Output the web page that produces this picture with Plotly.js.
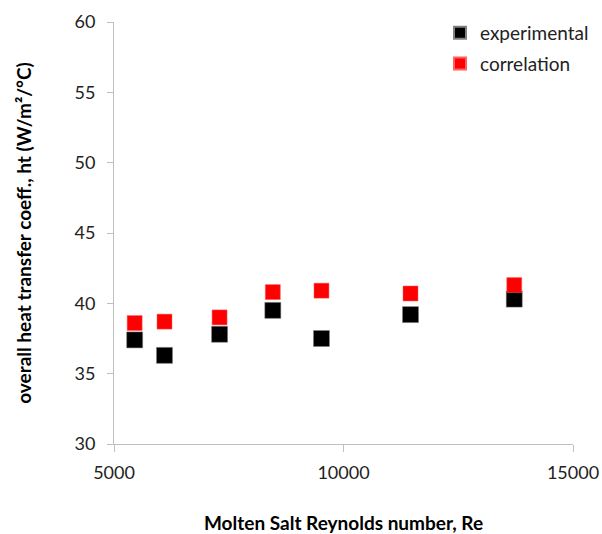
<!DOCTYPE html>
<html>
<head>
<meta charset="utf-8">
<script src="https://cdn.plot.ly/plotly-3.0.1.min.js"></script>
<style>html,body{margin:0;padding:0;background:#fff;}#chart{width:602px;height:534px;}</style>
</head>
<body>
<div id="chart"></div>
<script>
var reynolds = [5450, 6100, 7300, 8460, 9520, 11460, 13720];
var experimental = [37.4, 36.3, 37.8, 39.5, 37.5, 39.2, 40.3];
var correlation = [38.6, 38.7, 39.0, 40.8, 40.9, 40.7, 41.3];
var seriesNames = ["experimental", "correlation"];
var xTicks = [5000, 10000, 15000];
var yTicks = [30, 35, 40, 45, 50, 55, 60];

var FONT = "Lato, 'Open Sans', sans-serif";

var traces = [
  {
    x: reynolds, y: experimental, name: seriesNames[0], type: "scatter", mode: "markers",
    legendgroup: "a",
    marker: {symbol: "square", size: 16, color: "#000000", line: {color: "#808080", width: 0.5}}
  },
  {
    x: reynolds, y: correlation, name: seriesNames[1], type: "scatter", mode: "markers",
    legendgroup: "b",
    marker: {symbol: "square", size: 15, color: "#ff0000", line: {color: "#ff6060", width: 0.5}}
  }
];

var layout = {
  width: 602, height: 534,
  margin: {l: 114, r: 29, t: 22, b: 90, autoexpand: false},
  paper_bgcolor: "#ffffff", plot_bgcolor: "#ffffff",
  font: {family: FONT, size: 18, color: "#222222"},
  showlegend: true,
  legend: {
    x: (440 - 114) / 459, y: (444 - 14) / 422, xanchor: "left", yanchor: "top",
    itemsizing: "constant", tracegroupgap: 3,
    font: {family: FONT, size: 19, color: "#222222"},
    bgcolor: "rgba(0,0,0,0)"
  },
  xaxis: {
    range: [5000, 15000], tickvals: xTicks, ticktext: xTicks.map(String),
    showgrid: false, zeroline: false, showline: true, linecolor: "#bfbfbf", linewidth: 1,
    ticks: "outside", ticklen: 7, tickcolor: "#bfbfbf", tickwidth: 1,
    ticklabelstandoff: 5,
    tickfont: {family: FONT, size: 18, color: "#222222"},
    title: {text: "<b>Molten Salt Reynolds number, Re</b>", font: {family: FONT, size: 19, color: "#000000"}, standoff: 35}
  },
  yaxis: {
    range: [30, 60], tickvals: yTicks, ticktext: yTicks.map(String),
    showgrid: false, zeroline: false, showline: true, linecolor: "#bfbfbf", linewidth: 1,
    ticks: "outside", ticklen: 6, tickcolor: "#bfbfbf", tickwidth: 1,
    ticklabelstandoff: 8,
    tickfont: {family: FONT, size: 18, color: "#222222"},
    title: {text: "<b>overall heat transfer coeff., ht (W/m²/°C)</b>", font: {family: FONT, size: 19, color: "#000000"}, standoff: 37}
  }
};

Plotly.newPlot("chart", traces, layout, {displayModeBar: false, staticPlot: true});
</script>
</body>
</html>
